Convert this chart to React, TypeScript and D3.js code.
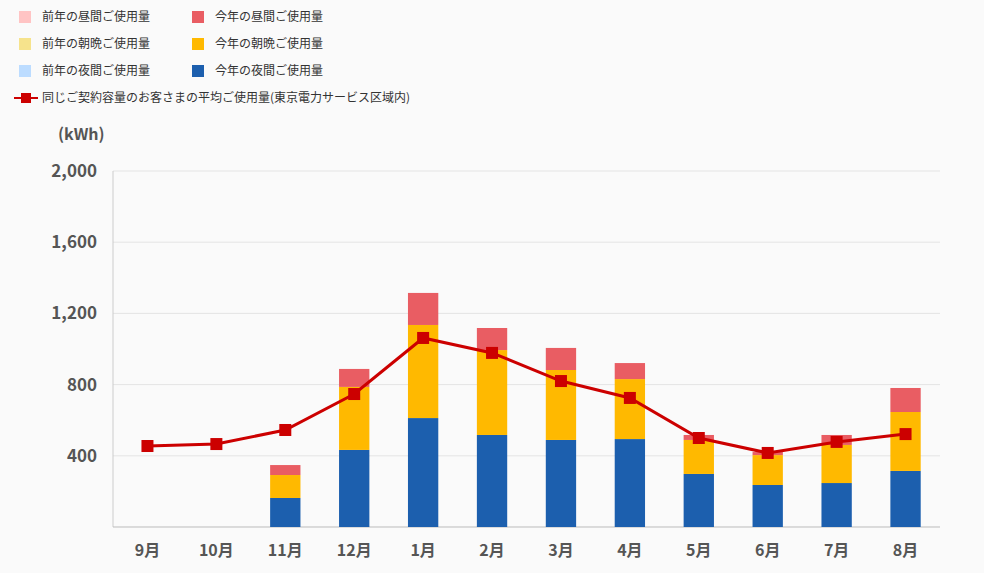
import * as d3 from 'd3';

const months = ['9月', '10月', '11月', '12月', '1月', '2月', '3月', '4月', '5月', '6月', '7月', '8月'];
const nightUse = [0, 0, 163, 433, 612, 517, 489, 494, 298, 236, 247, 315];
const morningUse = [0, 0, 129, 354, 523, 477, 393, 337, 191, 168, 214, 331];
const dayUse = [0, 0, 56, 101, 180, 124, 124, 90, 28, 17, 56, 135];
const avgUse = [455, 466, 545, 747, 1062, 978, 820, 725, 500, 416, 478, 522];
const yTicks = [400, 800, 1200, 1600, 2000];

const legendItems = [
  ['前年の昼間ご使用量', '#ffc4c4', '今年の昼間ご使用量', '#e95d63'],
  ['前年の朝晩ご使用量', '#f6e38c', '今年の朝晩ご使用量', '#ffb900'],
  ['前年の夜間ご使用量', '#bcdcff', '今年の夜間ご使用量', '#1c5fae'],
];

const W = 984;
const H = 573;
const font = '"Noto Sans CJK JP", "Noto Sans", sans-serif';

export default function App() {
  const x = d3.scaleBand<string>().domain(months).range([113, 940]).paddingInner(0.56).paddingOuter(0.28);
  const y = d3.scaleLinear().domain([0, 2000]).range([527, 171]);
  const cx = (m: string) => (x(m) ?? 0) + x.bandwidth() / 2;
  const line = d3.line<number>().x((_, i) => cx(months[i])).y((d) => y(d));

  return (
    <svg width={W} height={H} style={{ position: 'absolute', left: 0, top: 0, background: '#fafafa' }} fontFamily={font}>
      {legendItems.map((row, i) => (
        <g key={i} transform={`translate(0, ${17 + i * 27})`}>
          <rect x={19} y={-6} width={12} height={12} fill={row[1]} />
          <text x={42} y={4} fontSize={12} fill="#333">{row[0]}</text>
          <rect x={192} y={-6} width={12} height={12} fill={row[3]} />
          <text x={215} y={4} fontSize={12} fill="#333">{row[2]}</text>
        </g>
      ))}
      <g transform="translate(0, 98)">
        <line x1={14} x2={38} y1={0} y2={0} stroke="#cc0000" strokeWidth={2} />
        <rect x={21} y={-5} width={10} height={10} fill="#cc0000" />
        <text x={42} y={4} fontSize={12} fill="#333">同じご契約容量のお客さまの平均ご使用量(東京電力サービス区域内)</text>
      </g>
      <text x={58} y={140} fontSize={16} fontWeight="bold" fill="#555">(kWh)</text>
      {yTicks.map((t) => (
        <g key={t}>
          <line x1={113} x2={940} y1={y(t)} y2={y(t)} stroke="#e4e4e4" />
          <text x={97} y={y(t) + 6} fontSize={17} fontWeight="bold" textAnchor="end" fill="#555">
            {d3.format(',')(t)}
          </text>
        </g>
      ))}
      <line x1={113} x2={113} y1={171} y2={527} stroke="#ccc" />
      <line x1={113} x2={940} y1={527} y2={527} stroke="#bbb" />
      {months.map((m, i) => {
        const segs = [
          [0, nightUse[i], '#1c5fae'],
          [nightUse[i], nightUse[i] + morningUse[i], '#ffb900'],
          [nightUse[i] + morningUse[i], nightUse[i] + morningUse[i] + dayUse[i], '#e95d63'],
        ] as [number, number, string][];
        return (
          <g key={m}>
            {segs.map(([a, b, c], j) =>
              b > a ? <rect key={j} x={x(m)} width={x.bandwidth()} y={y(b)} height={y(a) - y(b)} fill={c} /> : null
            )}
            <text x={cx(m)} y={556} fontSize={16} fontWeight="bold" textAnchor="middle" fill="#555">{m}</text>
          </g>
        );
      })}
      <path d={line(avgUse) ?? ''} fill="none" stroke="#cc0000" strokeWidth={3} />
      {avgUse.map((v, i) => (
        <rect key={i} x={cx(months[i]) - 6} y={y(v) - 6} width={12} height={12} fill="#cc0000" />
      ))}
    </svg>
  );
}
